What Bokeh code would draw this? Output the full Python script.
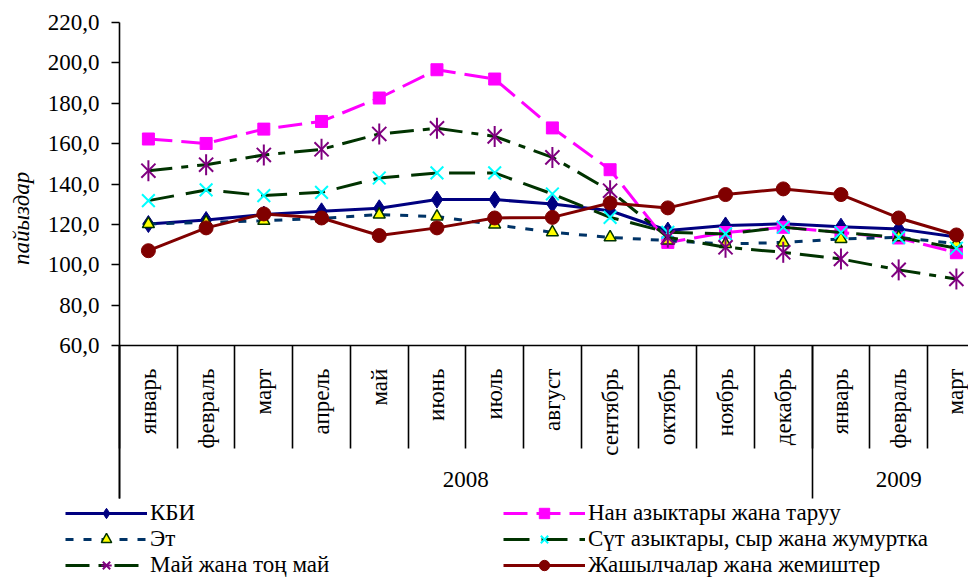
import math
import numpy as np
from bokeh.plotting import figure
from bokeh.models import Range1d, FixedTicker, LinearAxis, Legend, LegendItem, Label
from bokeh.embed import file_html
from bokeh.resources import INLINE

months = ["январь", "февраль", "март", "апрель", "май", "июнь", "июль", "август",
          "сентябрь", "октябрь", "ноябрь", "декабрь", "январь", "февраль", "март"]
years = ["2008", "2009"]
year_counts = [12, 3]

kbi = [120.2, 122.2, 124.9, 126.5, 128.0, 132.3, 132.3, 130.1, 126.8, 117.0, 119.5, 120.3, 118.9, 117.8, 113.8]
nan = [162.3, 160.1, 167.2, 171.0, 182.6, 196.6, 192.0, 167.8, 147.1, 111.1, 116.0, 118.6, 116.0, 113.3, 106.0]
et = [120.2, 121.0, 121.8, 123.0, 124.9, 123.9, 119.9, 116.1, 113.6, 112.0, 110.3, 111.1, 112.8, 113.6, 110.5]
sut = [131.8, 137.1, 134.3, 135.9, 143.0, 145.5, 145.5, 135.1, 123.5, 116.1, 115.3, 118.6, 116.0, 113.6, 108.2]
mai = [146.6, 149.6, 154.4, 157.2, 164.8, 167.6, 163.6, 153.2, 136.7, 113.6, 108.7, 106.2, 102.9, 97.5, 93.0]
jash = [107.0, 118.3, 125.2, 123.2, 114.5, 118.3, 123.2, 123.5, 130.6, 128.2, 134.8, 137.6, 134.8, 123.2, 114.8]

y_ticks = [60, 80, 100, 120, 140, 160, 180, 200, 220]
y_tick_labels = ["60,0", "80,0", "100,0", "120,0", "140,0", "160,0", "180,0", "200,0", "220,0"]

names = ["КБИ", "Нан азыктары жана таруу", "Эт", "Сүт азыктары, сыр жана жумуртка",
         "Май жана тоң май", "Жашылчалар жана жемиштер"]

FONT = "Liberation Serif"
FS = "23px"
AXW = 1.6

x = np.arange(len(months)) + 0.5
n = len(months)

p = figure(width=968, height=578, output_backend="svg", toolbar_location=None,
           x_range=Range1d(-1.976, 14.71), y_range=Range1d(-55.31, 228.41),
           min_border_left=5, min_border_right=0, min_border_top=5, min_border_bottom=0,
           outline_line_color=None)
p.grid.visible = False
p.background_fill_color = "white"

# y axis, placed at the start of the category scale
ya = p.yaxis[0]
ya.fixed_location = 0
ya.ticker = FixedTicker(ticks=y_ticks, minor_ticks=[])
ya.major_label_overrides = {float(t): l for t, l in zip(y_ticks, y_tick_labels)}
ya.bounds = (-15.7, 220)
ya.major_tick_out = 8
ya.major_tick_in = 0
ya.minor_tick_out = 0
ya.major_label_standoff = 12
ya.major_label_text_font = FONT
ya.major_label_text_font_size = FS
ya.major_label_text_color = "black"
ya.axis_line_width = AXW
ya.major_tick_line_width = AXW

# x axis: month labels
xa = p.xaxis[0]
xa.fixed_location = 60
xa.bounds = (0, 14.71)
xa.ticker = FixedTicker(ticks=list(x), minor_ticks=[])
xa.major_label_overrides = {float(c): m for c, m in zip(x, months)}
xa.major_label_orientation = math.pi / 2
xa.major_tick_out = 0
xa.major_tick_in = 0
xa.minor_tick_out = 0
xa.minor_tick_in = 0
xa.axis_line_width = AXW
xa.major_label_standoff = 23
xa.major_label_text_font = FONT
xa.major_label_text_font_size = FS
xa.major_label_text_color = "black"

def tick_axis(ticks, length):
    ax = LinearAxis(fixed_location=60, ticker=FixedTicker(ticks=list(ticks), minor_ticks=[]),
                    major_tick_out=length, major_tick_in=0, minor_tick_out=0, minor_tick_in=0,
                    major_tick_line_width=AXW, major_tick_line_color="black",
                    axis_line_color=None, major_label_text_font_size="0px",
                    major_label_text_alpha=0)
    p.add_layout(ax, "below")

# month boundary ticks
tick_axis(np.arange(n + 1, dtype=float), 103)

# year boundary ticks and labels
edges = np.concatenate([[0], np.cumsum(year_counts)]).astype(float)
centers = (edges[:-1] + edges[1:]) / 2.0
tick_axis(edges, 153)
yr = LinearAxis(fixed_location=60,
                ticker=FixedTicker(ticks=list(centers), minor_ticks=[]),
                major_label_overrides={float(c): y for c, y in zip(centers, years)},
                major_tick_out=0, major_tick_in=0, minor_tick_out=0, minor_tick_in=0,
                axis_line_color=None, major_label_standoff=126,
                major_label_text_font=FONT, major_label_text_font_size=FS,
                major_label_text_color="black")
p.add_layout(yr, "below")

# series
r_kbi_l = p.line(x, kbi, line_color="#000080", line_width=3)
r_kbi_m = p.scatter(x, kbi, marker="diamond", size=17,
                    fill_color="#000080", line_color="#000080")

r_nan_l = p.line(x, nan, line_color="#FF00FF", line_width=3, line_dash="24 9")
r_nan_m = p.scatter(x, nan, marker="square", size=12, fill_color="#FF00FF", line_color="#FF00FF")

r_et_l = p.line(x, et, line_color="#003366", line_width=3, line_dash="8 10")
r_et_m = p.scatter(x, et, marker="triangle", size=12, fill_color="#FFFF00",
                   line_color="#003300", line_width=1.5)

r_sut_l = p.line(x, sut, line_color="#003300", line_width=3, line_dash="26 12")
r_sut_m = p.scatter(x, sut, marker="x", size=18, line_color="#00FFFF", line_width=2)

r_mai_l = p.line(x, mai, line_color="#003300", line_width=3, line_dash="24 9 7 9")
r_mai_m1 = p.scatter(x, mai, marker="x", size=20, line_color="#800080", line_width=2)
r_mai_m2 = p.scatter(x, mai, marker="dash", angle=math.pi / 2, size=21,
                     line_color="#800080", line_width=2)

r_jash_l = p.line(x, jash, line_color="#800000", line_width=3)
r_jash_m = p.scatter(x, jash, marker="circle", size=14, fill_color="#800000", line_color="#800000")

# y title
p.add_layout(Label(x=-1.70, y=123, text="пайыздар", angle=math.pi / 2,
                   text_font=FONT, text_font_style="italic", text_font_size=FS,
                   text_align="center", text_baseline="middle", text_color="black"))

def mk_legend(items, loc):
    lg = Legend(items=items, location=loc, orientation="vertical",
                glyph_width=82, glyph_height=26, label_standoff=3, spacing=0,
                padding=0, margin=0, border_line_color=None, background_fill_alpha=0,
                label_text_font=FONT, label_text_font_size=FS, label_height=23,
                label_text_color="black")
    p.add_layout(lg, "center")

mk_legend([
    LegendItem(label=names[0], renderers=[r_kbi_l, r_kbi_m]),
    LegendItem(label=names[2], renderers=[r_et_l, r_et_m]),
    LegendItem(label=names[4], renderers=[r_mai_l, r_mai_m1, r_mai_m2]),
], (60, 0))
mk_legend([
    LegendItem(label=names[1], renderers=[r_nan_l, r_nan_m]),
    LegendItem(label=names[3], renderers=[r_sut_l, r_sut_m]),
    LegendItem(label=names[5], renderers=[r_jash_l, r_jash_m]),
], (498, 0))

open("out.html", "w").write(file_html(p, INLINE))
